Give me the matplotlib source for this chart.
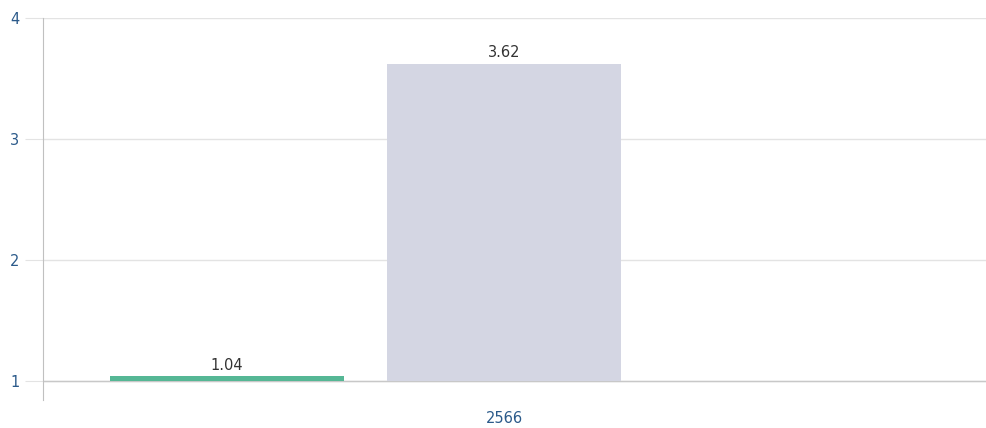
import matplotlib.pyplot as plt

categories = ['2566']
series_values = [1.04, 3.62]
series_colors = ['#55b795', '#d4d6e3']
offsets = [-1, 0]

fig = plt.figure(figsize=(9.86, 4.28), dpi=100)
ax = fig.add_axes([43 / 986, 28 / 428, 943 / 986, 382 / 428])

for off, val, col in zip(offsets, series_values, series_colors):
    ax.bar(off, val - 1, bottom=1, width=0.845, color=col, zorder=3)
    ax.text(off, val + 0.03, f'{val:.2f}', ha='center', va='bottom',
            fontsize=10.5, color='#333333', zorder=4)

ax.set_xlim(-1.664, 1.740)
ax.set_ylim(1 - 19 / 121, 4)
ax.set_yticks([1, 2, 3, 4])
ax.set_yticklabels(['1', '2', '3', '4'])
ax.set_xticks([0])
ax.set_xticklabels(categories)

ax.grid(axis='y', color='#e3e3e3', linewidth=1, zorder=0)
ax.axhline(1, color='#c8c8c8', linewidth=1, zorder=2)

for s in ['top', 'right', 'bottom']:
    ax.spines[s].set_visible(False)
ax.spines['left'].set_color('#c0c0c0')

ax.tick_params(axis='y', length=13, color='#e3e3e3', pad=4,
               labelcolor='#2b5a8a', labelsize=10.5)
ax.tick_params(axis='x', length=0, pad=8, labelcolor='#2b5a8a', labelsize=10.5)

fig.savefig('out.png', dpi=100)
